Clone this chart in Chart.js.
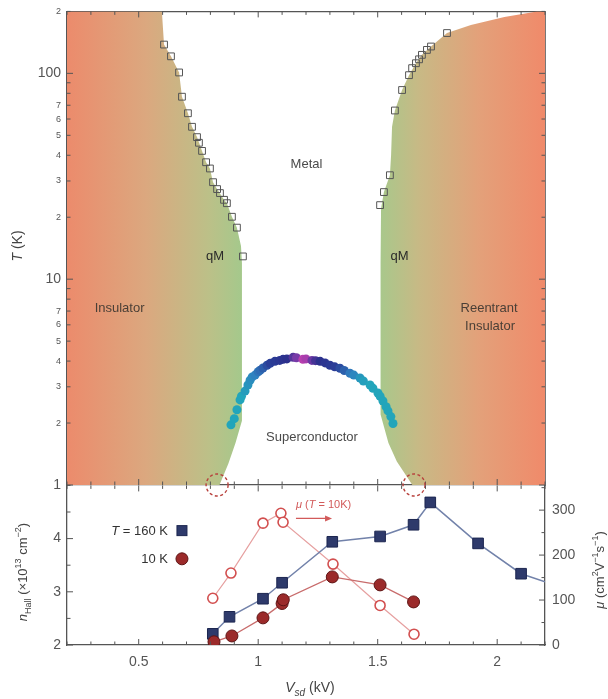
<!DOCTYPE html>
<html><head><meta charset="utf-8">
<script src="https://cdn.jsdelivr.net/npm/chart.js@4.4.1/dist/chart.umd.min.js"></script>
<style>
html,body{margin:0;padding:0;background:#fff;}
#wrap{position:relative;width:608px;height:699px;overflow:hidden;background:#fff;}
#c1{position:absolute;left:0;top:0;}
#c2{position:absolute;left:0;top:470px;}
</style></head><body>
<div id="wrap">
<canvas id="c1" width="608" height="500"></canvas>
<canvas id="c2" width="608" height="229"></canvas>
</div>
<script>
// ---------------- DATA ----------------
// shared x axis (V, kV)
const xTicks = [0.2,0.3,0.4,0.5,0.6,0.7,0.8,0.9,1.0,1.1,1.2,1.3,1.4,1.5,1.6,1.7,1.8,1.9,2.0,2.1,2.2];
const xTickLabels = ['','','','0.5','','','','','1','','','','','1.5','','','','','2','',''];
// top panel temperature axis (log)
const tTicks = [1,2,3,4,5,6,7,8,9,10,20,30,40,50,60,70,80,90,100,200];
const tTickLabels = ['1','2','3','4','5','6','7','','','10','2','3','4','5','6','7','','','100','2'];
// bottom panel axes
const nTicks = [2,2.5,3,3.5,4,4.5,5];
const nTickLabels = ['2','','3','','4','',''];
const muTicks = [0,50,100,150,200,250,300,350];
const muTickLabels = ['0','','100','','200','','300',''];

// phase boundary squares (open squares)
const leftSqV = [0.606,0.635,0.669,0.681,0.706,0.723,0.744,0.752,0.765,0.782,0.798,0.811,0.828,0.840,0.857,0.869,0.890,0.911,0.936];
const leftSqT = [138,121,101,77,64,55,49,46,42,37,34.5,29.6,27.4,26.2,24.3,23.4,20.1,17.8,12.9];
const rightSqV = [1.790,1.723,1.706,1.685,1.673,1.660,1.644,1.631,1.602,1.572,1.551,1.526,1.510];
const rightSqT = [157,135,130,123,117,112,106,98,83,66,32,26.5,22.9];

// insulating / qM region outlines
const leftRegionV = [0.2,0.2,0.597,0.606,0.635,0.669,0.681,0.706,0.723,0.744,0.765,0.782,0.798,0.811,0.828,0.857,0.869,0.890,0.911,0.928,0.932,0.932,0.905,0.875,0.838];
const leftRegionT = [1,200,200,138,121,101,77,64,55,49,42,37,34.5,29.6,27.4,24.3,23.4,20.1,17.8,14.5,12,2.05,1.6,1.27,1];
const rightRegionV = [2.2,2.2,2.166,2.03,1.89,1.79,1.723,1.685,1.66,1.631,1.602,1.572,1.56,1.556,1.551,1.526,1.514,1.512,1.512,1.545,1.58,1.645];
const rightRegionT = [1,200,200,188,172,157,135,123,112,98,83,66,55,40,32,26.5,22,12,2.2,1.6,1.3,1];

// superconducting dome Tc
const domeV = [0.886,0.90,0.911,0.924,0.93,0.945,0.957,0.966,0.975,0.987,1.0,1.008,1.02,1.037,1.05,1.07,1.09,1.104,1.12,1.146,1.16,1.187,1.20,1.225,1.24,1.259,1.28,1.30,1.32,1.342,1.36,1.384,1.40,1.426,1.44,1.468,1.48,1.501,1.51,1.522,1.535,1.543,1.555,1.564];
const domeT = [1.96,2.1,2.32,2.59,2.7,2.86,3.06,3.23,3.35,3.42,3.55,3.61,3.7,3.82,3.9,3.99,4.03,4.08,4.1,4.17,4.15,4.08,4.1,4.03,4.02,3.99,3.92,3.82,3.75,3.69,3.6,3.49,3.42,3.31,3.2,3.06,2.95,2.80,2.7,2.56,2.4,2.29,2.15,1.99];

// quantum critical points (dashed circles)
const criticalV = [0.828,1.652];
const criticalT = [1,1];

// bottom panel series
const hallV160 = [0.81,0.88,1.02,1.10,1.31,1.51,1.65,1.72,1.92,2.10,2.20];
const hall160 = [2.21,2.53,2.87,3.17,3.94,4.04,4.26,4.68,3.91,3.34,3.19];
const hallV10 = [0.815,0.89,1.02,1.10,1.105,1.31,1.51,1.65];
const hall10 = [2.06,2.17,2.51,2.78,2.85,3.28,3.13,2.81];
const muV10 = [0.81,0.886,1.02,1.095,1.104,1.313,1.51,1.652];
const mu10 = [104,160,271,293,273,180,88,24];

// ---------------- HELPERS ----------------
const family = '"Liberation Sans", Arial, Helvetica, sans-serif';
const axisColor = '#555';
const pts = (xs, ys) => xs.map((x, i) => ({x, y: ys[i]}));
const fixW = w => s => { s.width = w; };
const fixH = h => s => { s.height = h; };
const setTicks = arr => s => { s.ticks = arr.map(v => ({value: v})); };

function runFont(r, size){ const s = (r.sub||r.sup) ? Math.round(size*0.68) : size; return (r.i?'italic ':'') + s + 'px ' + family; }
function drawRuns(ctx, runs, x, y, size, color, rot, align){
  ctx.save(); ctx.translate(x, y); if (rot) ctx.rotate(-Math.PI/2);
  ctx.textBaseline = 'alphabetic'; ctx.fillStyle = color;
  let w = 0; for (const r of runs){ ctx.font = runFont(r, size); w += ctx.measureText(r.t).width; }
  let cx = align === 'right' ? -w : (align === 'left' ? 0 : -w/2);
  const base = size*0.36;
  for (const r of runs){ ctx.font = runFont(r, size); const dy = r.sub ? size*0.3 : (r.sup ? -size*0.42 : 0); ctx.fillText(r.t, cx, base+dy); cx += ctx.measureText(r.t).width; }
  ctx.restore();
}

const inTicks = {
  id: 'inTicks',
  afterDraw(chart){
    const ctx = chart.ctx, ca = chart.chartArea;
    ctx.save(); ctx.strokeStyle = axisColor; ctx.lineWidth = 1;
    for (const s of Object.values(chart.scales)){
      const pos = s.options.position;
      s.ticks.forEach((t, i) => {
        const p = s.getPixelForTick(i);
        let major;
        if (s.type === 'logarithmic') major = [1,10,100].includes(t.value);
        else major = t.label !== '' && t.label != null;
        const len = major ? 6 : 3.5;
        ctx.beginPath();
        if (pos === 'left'){ ctx.moveTo(ca.left, p); ctx.lineTo(ca.left+len, p); }
        else if (pos === 'right'){ ctx.moveTo(ca.right, p); ctx.lineTo(ca.right-len, p); }
        else if (pos === 'bottom'){ ctx.moveTo(p, ca.bottom); ctx.lineTo(p, ca.bottom-len); }
        else { ctx.moveTo(p, ca.top); ctx.lineTo(p, ca.top+len); }
        ctx.stroke();
      });
    }
    ctx.restore();
  }
};

function hGrad(ctx, v0, v1, stops){
  const chart = ctx.chart; const xs = chart.scales.x;
  if (!chart.chartArea || !xs) return stops[0][1];
  const g = chart.ctx.createLinearGradient(xs.getPixelForValue(v0), 0, xs.getPixelForValue(v1), 0);
  stops.forEach(s => g.addColorStop(s[0], s[1]));
  return g;
}

function domeColor(v){
  const d = Math.abs(v - 1.19);
  const stops = [[0,[192,64,176]],[0.03,[120,58,168]],[0.06,[44,47,140]],[0.14,[43,63,152]],[0.2,[47,128,192]],[0.26,[34,165,187]],[1,[32,168,181]]];
  for (let i = 1; i < stops.length; i++){
    if (d <= stops[i][0]){
      const a = stops[i-1], b = stops[i]; const f = (d-a[0])/(b[0]-a[0]);
      const c = a[1].map((q, k) => Math.round(q + (b[1][k]-q)*f));
      return 'rgb(' + c.join(',') + ')';
    }
  }
  return 'rgb(32,168,181)';
}

const topLabels = [
  {runs:[{t:'Metal'}], v:1.202, T:36.6, color:'#4a4a4a'},
  {runs:[{t:'qM'}], v:0.819, T:13.0, color:'#2a2a2a'},
  {runs:[{t:'qM'}], v:1.591, T:13.0, color:'#2a2a2a'},
  {runs:[{t:'Insulator'}], v:0.42, T:7.33, color:'#4a3f36'},
  {runs:[{t:'Reentrant'}], v:1.966, T:7.33, color:'#4a3f36'},
  {runs:[{t:'Insulator'}], v:1.97, T:5.94, color:'#4a3f36'},
  {runs:[{t:'Superconductor'}], v:1.225, T:1.72, color:'#4a4a4a'}
];

const topDecor = {
  id: 'topDecor',
  afterDraw(chart){
    const ctx = chart.ctx, xs = chart.scales.x, ys = chart.scales.y;
    topLabels.forEach(l => drawRuns(ctx, l.runs, xs.getPixelForValue(l.v), ys.getPixelForValue(l.T), 13, l.color, false, 'center'));
    ctx.save(); ctx.strokeStyle = '#b8403c'; ctx.lineWidth = 1.4; ctx.setLineDash([3,2.5]);
    criticalV.forEach((v, i) => { ctx.beginPath(); ctx.arc(xs.getPixelForValue(v), ys.getPixelForValue(criticalT[i]), 11, 0, Math.PI*2); ctx.stroke(); });
    ctx.restore();
    drawRuns(ctx, [{t:'T', i:true},{t:' (K)'}], 17, 246, 14, '#444', true, 'center');
  }
};

// ---------------- TOP CHART ----------------
new Chart(document.getElementById('c1'), {
  type: 'line',
  data: { datasets: [
    { data: pts(leftRegionV, leftRegionT), indexAxis: 'y', showLine: true, fill: 'shape', borderWidth: 0, pointRadius: 0, order: 10,
      backgroundColor: c => hGrad(c, 0.2, 0.94, [[0,'#ec8b6c'],[0.45,'#dba87f'],[0.8,'#bcc088'],[1,'#a3c98c']]) },
    { data: pts(rightRegionV, rightRegionT), indexAxis: 'y', showLine: true, fill: 'shape', borderWidth: 0, pointRadius: 0, order: 10,
      backgroundColor: c => hGrad(c, 1.5, 2.2, [[0,'#a6c98c'],[0.25,'#c8b985'],[0.6,'#e3a17a'],[1,'#f08a6a']]) },
    { data: pts(leftSqV, leftSqT), showLine: false, pointStyle: 'rect', pointRadius: 4.8, pointBorderColor: '#555', pointBorderWidth: 1, pointBackgroundColor: 'rgba(0,0,0,0)', order: 2 },
    { data: pts(rightSqV, rightSqT), showLine: false, pointStyle: 'rect', pointRadius: 4.8, pointBorderColor: '#555', pointBorderWidth: 1, pointBackgroundColor: 'rgba(0,0,0,0)', order: 2 },
    { data: pts(domeV, domeT), showLine: false, pointRadius: 4.5, pointBorderWidth: 0,
      pointBackgroundColor: c => domeColor(c.raw ? c.raw.x : 1.2), pointBorderColor: c => domeColor(c.raw ? c.raw.x : 1.2), order: 1 }
  ]},
  options: {
    responsive: false, animation: false, events: [],
    layout: { padding: 0 },
    plugins: { legend: { display: false }, tooltip: { enabled: false } },
    scales: {
      x: { type: 'linear', position: 'bottom', min: 0.2, max: 2.2, afterFit: fixH(15), afterBuildTicks: setTicks(xTicks),
           ticks: { display: false, callback: (v, i) => xTickLabels[i] }, grid: { display: false, drawTicks: false }, border: { color: axisColor, width: 1.3 } },
      xTop: { type: 'linear', position: 'top', min: 0.2, max: 2.2, afterFit: fixH(9), afterBuildTicks: setTicks(xTicks),
           ticks: { display: false, callback: (v, i) => xTickLabels[i] }, grid: { display: false, drawTicks: false }, border: { color: axisColor, width: 1.3 } },
      y: { type: 'logarithmic', position: 'left', min: 1, max: 200, afterFit: fixW(67), afterBuildTicks: setTicks(tTicks),
           ticks: { autoSkip: false, callback: (v, i) => tTickLabels[i], color: '#555', padding: 6,
                    font: c => ({ family, size: (c.tick && [1,10,100].includes(c.tick.value)) ? 14 : 9 }) },
           grid: { display: false, drawTicks: false }, border: { color: axisColor, width: 1.3 } },
      yR: { type: 'logarithmic', position: 'right', min: 1, max: 200, afterFit: fixW(63), afterBuildTicks: setTicks(tTicks),
           ticks: { display: false, callback: (v, i) => tTickLabels[i] }, grid: { display: false, drawTicks: false }, border: { color: '#777', width: 1 } }
    }
  },
  plugins: [inTicks, topDecor]
});

// ---------------- BOTTOM CHART ----------------
const bottomDecor = {
  id: 'bottomDecor',
  afterDraw(chart){
    const ctx = chart.ctx, xs = chart.scales.x, ys = chart.scales.y;
    const X = v => xs.getPixelForValue(v), Y = v => ys.getPixelForValue(v);
    // legend
    drawRuns(ctx, [{t:'T', i:true},{t:' = 160 K'}], X(0.6226), Y(4.15), 13, '#333', false, 'right');
    drawRuns(ctx, [{t:'10 K'}], X(0.6226), Y(3.62), 13, '#333', false, 'right');
    ctx.save();
    ctx.fillStyle = '#2e3a6b'; ctx.strokeStyle = '#1c2650'; ctx.lineWidth = 1;
    ctx.fillRect(X(0.681)-5, Y(4.15)-5, 10, 10); ctx.strokeRect(X(0.681)-5, Y(4.15)-5, 10, 10);
    ctx.fillStyle = '#9b2a2a'; ctx.strokeStyle = '#5e1414';
    ctx.beginPath(); ctx.arc(X(0.681), Y(3.62), 6, 0, Math.PI*2); ctx.fill(); ctx.stroke();
    // mu annotation
    const ac = '#d25a5a';
    ctx.strokeStyle = ac; ctx.fillStyle = ac; ctx.lineWidth = 1.3;
    const ax0 = X(1.158), ax1 = X(1.309), ay = Y(4.38);
    ctx.beginPath(); ctx.moveTo(ax0, ay); ctx.lineTo(ax1-4, ay); ctx.stroke();
    ctx.beginPath(); ctx.moveTo(ax1, ay); ctx.lineTo(ax1-7, ay-3); ctx.lineTo(ax1-7, ay+3); ctx.closePath(); ctx.fill();
    ctx.restore();
    drawRuns(ctx, [{t:'μ', i:true},{t:' ('},{t:'T', i:true},{t:' = 10K)'}], X(1.158), Y(4.645), 11, ac, false, 'left');
    // axis titles
    drawRuns(ctx, [{t:'n', i:true},{t:'Hall', sub:true},{t:' (×10'},{t:'13', sup:true},{t:' cm'},{t:'−2', sup:true},{t:')'}], 22, 102, 13, '#444', true, 'center');
    drawRuns(ctx, [{t:'μ', i:true},{t:' (cm'},{t:'2', sup:true},{t:'V'},{t:'−1', sup:true},{t:'s'},{t:'−1', sup:true},{t:')'}], 599, 100, 13, '#444', true, 'center');
    drawRuns(ctx, [{t:'V', i:true},{t:'sd', sub:true, i:true},{t:' (kV)'}], 310, 217, 14, '#444', false, 'center');
  }
};

new Chart(document.getElementById('c2'), {
  type: 'line',
  data: { datasets: [
    { data: pts(muV10, mu10), yAxisID: 'yR', borderColor: '#e6a0a0', borderWidth: 1.2, pointRadius: 5,
      pointBackgroundColor: '#fff', pointBorderColor: '#d24f4f', pointBorderWidth: 1.6, order: 3 },
    { data: pts(hallV160, hall160), yAxisID: 'y', borderColor: '#7282aa', borderWidth: 1.5, pointStyle: 'rect',
      pointRadius: c => (c.raw && c.raw.x >= 2.2) ? 0 : 7.5, pointBackgroundColor: '#2e3a6b', pointBorderColor: '#1c2650', pointBorderWidth: 1, order: 2 },
    { data: pts(hallV10, hall10), yAxisID: 'y', borderColor: '#c86c6c', borderWidth: 1.3, pointRadius: 6,
      pointBackgroundColor: '#9b2a2a', pointBorderColor: '#5e1414', pointBorderWidth: 1, order: 1 }
  ]},
  options: {
    responsive: false, animation: false, events: [],
    layout: { padding: 0 },
    plugins: { legend: { display: false }, tooltip: { enabled: false } },
    scales: {
      x: { type: 'linear', position: 'bottom', min: 0.2, max: 2.2, afterFit: fixH(54), afterBuildTicks: setTicks(xTicks),
           ticks: { autoSkip: false, maxRotation: 0, callback: (v, i) => xTickLabels[i], color: '#555', padding: 9, font: { family, size: 14 } },
           grid: { display: false, drawTicks: false }, border: { color: axisColor, width: 1.3 } },
      xTop: { type: 'linear', position: 'top', min: 0.2, max: 2.2, afterFit: fixH(15), afterBuildTicks: setTicks(xTicks),
           ticks: { display: false, callback: (v, i) => xTickLabels[i] }, grid: { display: false, drawTicks: false }, border: { display: false } },
      y: { type: 'linear', position: 'left', min: 2, max: 5, afterFit: fixW(67), afterBuildTicks: setTicks(nTicks),
           ticks: { autoSkip: false, callback: (v, i) => nTickLabels[i], color: '#555', padding: 6, font: { family, size: 14 } },
           grid: { display: false, drawTicks: false }, border: { color: axisColor, width: 1.3 } },
      yR: { type: 'linear', position: 'right', min: 0, max: 355, afterFit: fixW(63), afterBuildTicks: setTicks(muTicks),
           ticks: { autoSkip: false, callback: (v, i) => muTickLabels[i], color: '#555', padding: 7, font: { family, size: 14 } },
           grid: { display: false, drawTicks: false }, border: { color: axisColor, width: 1.3 } }
    }
  },
  plugins: [inTicks, bottomDecor]
});
</script>
</body></html>
